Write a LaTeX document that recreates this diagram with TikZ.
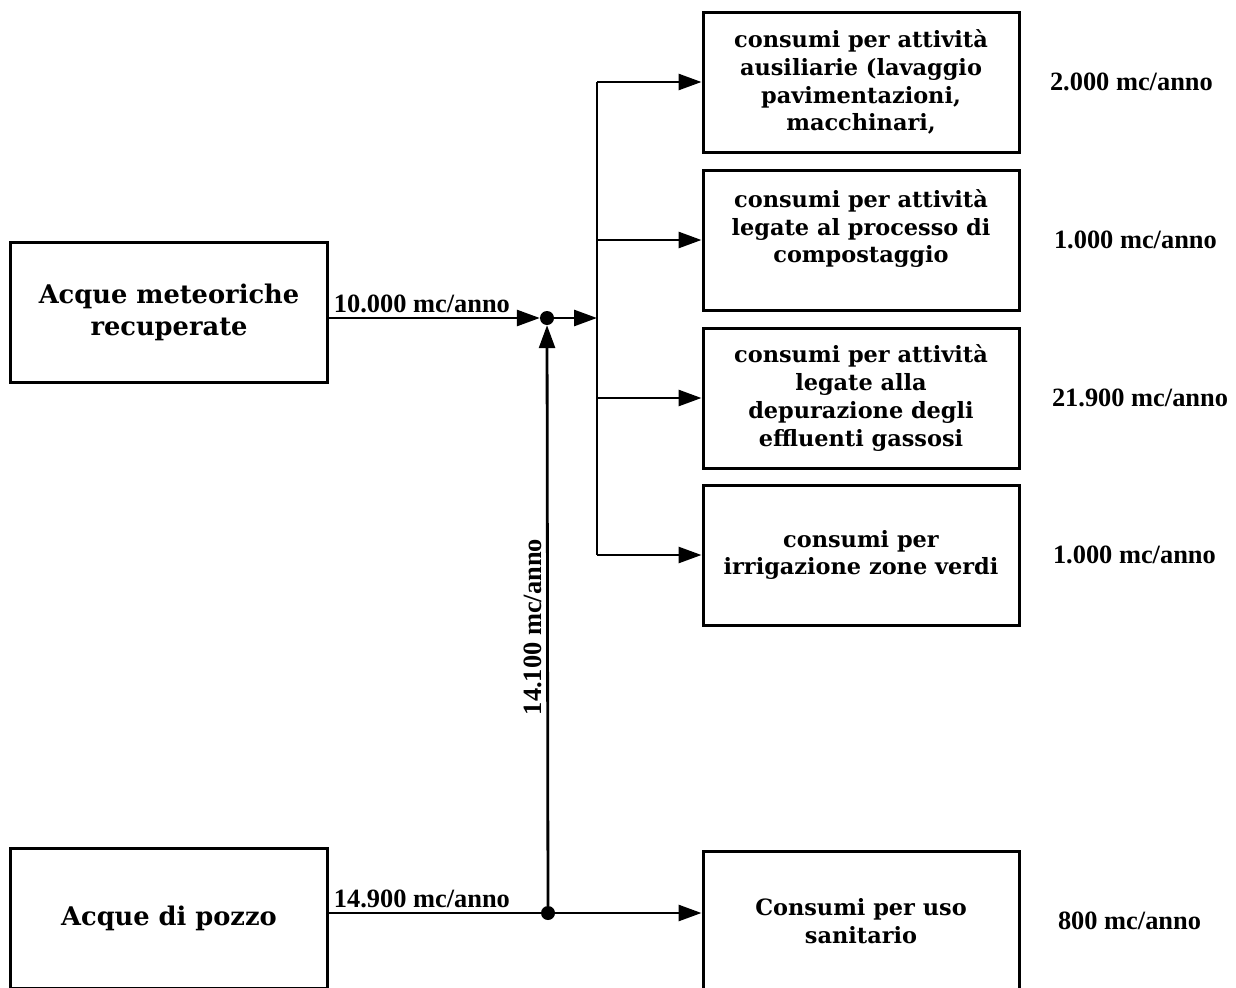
\documentclass[tikz,border=0pt]{standalone}
\usepackage{fontspec}
\setmainfont{DejaVu Serif}
\newfontfamily\valfont{Liberation Serif}
\usetikzlibrary{arrows.meta,positioning}
\tikzset{
  box/.style={draw, line width=3bp, minimum width=316bp, minimum height=140bp,
    inner sep=0pt, align=center, font=\bfseries\fontsize{22.5}{28}\selectfont},
  srcbox/.style={box, font=\bfseries\fontsize{25.8}{32}\selectfont},
  flow/.style={font=\valfont\bfseries\fontsize{26.5}{28}\selectfont},
  arr/.style={-{Triangle[length=23bp,width=16bp]}, line width=2.8bp},
  dot/.style={circle, fill, inner sep=0pt, minimum size=14bp}
}
\begin{document}
\begin{tikzpicture}[x=1bp, y=-1bp]
  \clip (0,0) rectangle (1236,988);
  % sources
  \node[srcbox] (meteo) at (169,312.5) {Acque meteoriche\\recuperate};
  \node[srcbox] (pozzo) at (169,918) {Acque di pozzo};
  % uses
  \node[box] (aux) at (861,82) {consumi per attività\\ausiliarie (lavaggio\\pavimentazioni,\\macchinari,};
  \node[box, below=15bp of aux] (comp) {consumi per attività\\legate al processo di\\compostaggio\\\mbox{}};
  \node[box, below=15bp of comp] (depur) {consumi per attività\\legate alla\\depurazione degli\\effluenti gassosi};
  \node[box, below=14bp of depur] (irrig) {consumi per\\irrigazione zone verdi};
  \node[box] (sanit) at (861,921) {Consumi per uso\\sanitario};
  % yearly volumes
  \node[flow, right=26bp of aux] (vaux) {2.000 mc/anno};
  \node[flow, right=30bp of comp] (vcomp) {1.000 mc/anno};
  \node[flow, right=28bp of depur] (vdepur) {21.900 mc/anno};
  \node[flow, right=29bp of irrig] (virrig) {1.000 mc/anno};
  \node[flow, right=34bp of sanit] (vsanit) {800 mc/anno};
  % junctions
  \node[dot] (j1) at (547,318) {};
  \node[dot] (j2) at (548,913) {};
  \coordinate (bus) at (597,318);

  \draw[arr] (meteo.east |- j1) -- node[flow, pos=0, anchor=south west, inner sep=4bp] (lmeteo) {10.000 mc/anno} (j1);
  \draw[arr] (j1) -- (bus);
  \draw[line width=2.8bp] (aux.west -| bus) -- (irrig.west -| bus);
  \draw[arr] (aux.west -| bus) -- (aux.west);
  \draw[arr] (comp.west -| bus) -- (comp.west);
  \draw[arr] (depur.west -| bus) -- (depur.west);
  \draw[arr] (irrig.west -| bus) -- (irrig.west);
  \draw[line width=2.8bp] (pozzo.east |- j2) -- node[flow, pos=0, anchor=south west, inner sep=4bp] (lpozzo) {14.900 mc/anno} (j2);
  \draw[arr] (j2) -- (sanit.west |- j2);
  \draw[arr] (j2) -- node[flow, rotate=90, above, pos=0.48, inner sep=4bp] (lrisal) {14.100 mc/anno} (j1);
\end{tikzpicture}
\end{document}
